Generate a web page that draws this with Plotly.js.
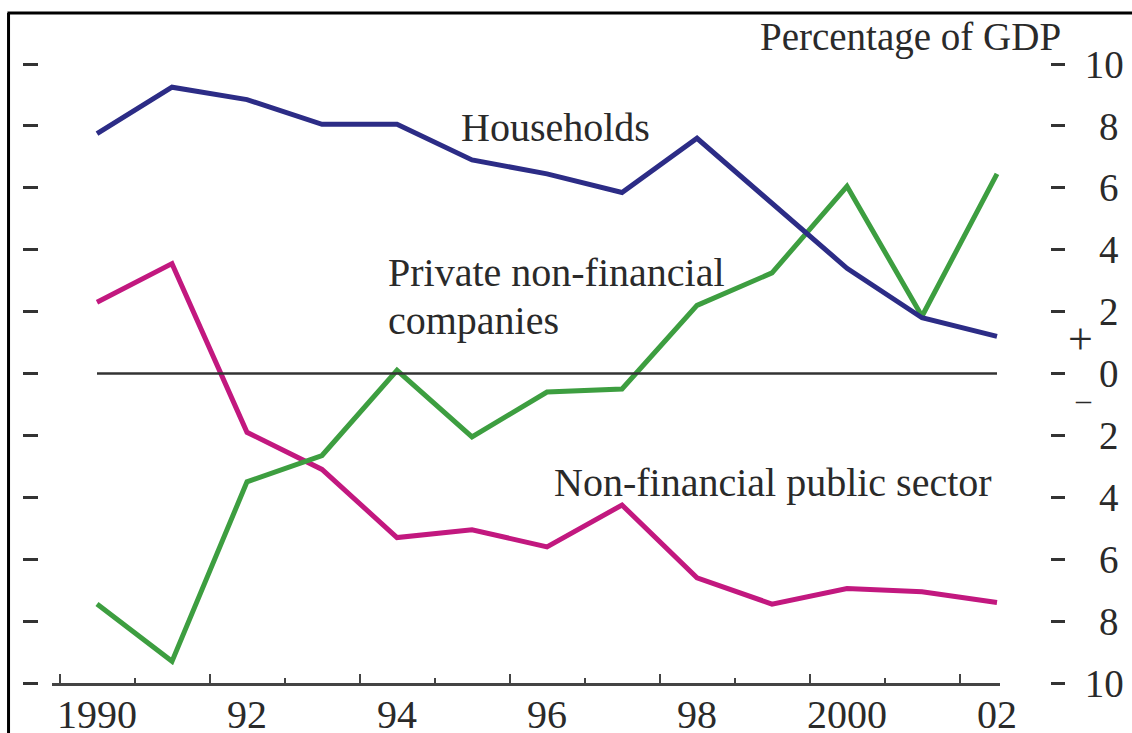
<!DOCTYPE html>
<html>
<head>
<meta charset="utf-8">
<script src="https://cdn.plot.ly/plotly-3.0.1.min.js"></script>
<style>html,body{margin:0;padding:0;background:#fff;}#chart{width:1132px;height:733px;}</style>
</head>
<body>
<div id="chart"></div>
<script>
// ---- data ----
const years = [1990,1991,1992,1993,1994,1995,1996,1997,1998,1999,2000,2001,2002];
const households = [7.75,9.25,8.85,8.05,8.05,6.9,6.45,5.85,7.6,5.5,3.4,1.8,1.2];
const privateCompanies = [-7.45,-9.3,-3.5,-2.65,0.1,-2.05,-0.6,-0.5,2.2,3.25,6.05,1.85,6.45];
const publicSector = [2.3,3.55,-1.9,-3.1,-5.3,-5.05,-5.6,-4.25,-6.6,-7.45,-6.95,-7.05,-7.4];
const xLabelVals = [1990,1992,1994,1996,1998,2000,2002];
const xLabelText = ['1990','92','94','96','98','2000','02'];
const yTickVals = [-10,-8,-6,-4,-2,0,2,4,6,8,10];
const yWideVals = [-10,10];
const yWideText = ['10','10'];
const yNarrowVals = [-8,-6,-4,-2,0,2,4,6,8];
const yNarrowText = ['8','6','4','2','0','2','4','6','8'];
const xTickMajor = [1989.5,1991.5,1993.5,1995.5,1997.5,1999.5,2001.5];

const FONT = 'Liberation Serif, Times New Roman, serif';
const TXT = '#2a2a2a';

const traces = [
  {x: years, y: publicSector, type: 'scatter', mode: 'lines', line: {color: '#c2187f', width: 5}, hoverinfo: 'skip'},
  {x: years, y: privateCompanies, type: 'scatter', mode: 'lines', line: {color: '#3d9e40', width: 5}, hoverinfo: 'skip'},
  {x: years, y: households, type: 'scatter', mode: 'lines', line: {color: '#2c2c86', width: 5}, hoverinfo: 'skip'},
  // invisible traces that attach the label axes
  {x: years, y: households, xaxis: 'x2', yaxis: 'y', type: 'scatter', mode: 'lines', line: {width: 0, color: 'rgba(0,0,0,0)'}, hoverinfo: 'skip'},
  {x: years, y: households, xaxis: 'x', yaxis: 'y2', type: 'scatter', mode: 'lines', line: {width: 0, color: 'rgba(0,0,0,0)'}, hoverinfo: 'skip'},
  {x: years, y: households, xaxis: 'x', yaxis: 'y3', type: 'scatter', mode: 'lines', line: {width: 0, color: 'rgba(0,0,0,0)'}, hoverinfo: 'skip'}
];

const xDom = [(52-20)/1092, (1000-20)/1092];
const xRange = [1989.4, 2002.04];

const layout = {
  width: 1132, height: 733,
  margin: {l: 20, r: 20, t: 64, b: 50},
  paper_bgcolor: '#fff', plot_bgcolor: '#fff',
  showlegend: false,
  font: {family: FONT, color: TXT, size: 39},
  xaxis: {
    domain: xDom, range: xRange, showgrid: false, zeroline: false,
    showline: true, linecolor: '#444', linewidth: 2.5,
    tickmode: 'array', tickvals: xTickMajor, showticklabels: false,
    ticks: 'inside', ticklen: 9, tickwidth: 2, tickcolor: '#444',
    minor: {tick0: 1989.5, dtick: 1, ticks: 'inside', ticklen: 5, tickwidth: 2, tickcolor: '#444', showgrid: false}
  },
  xaxis2: {
    overlaying: 'x', anchor: 'y', side: 'bottom', domain: xDom, range: xRange,
    showgrid: false, zeroline: false, showline: false, ticks: '',
    tickmode: 'array', tickvals: xLabelVals, ticktext: xLabelText,
    tickfont: {family: FONT, size: 40, color: TXT}, ticklabelstandoff: 4
  },
  yaxis: {
    range: [-10, 10], anchor: 'free', position: (38-20)/1092,
    showgrid: false, zeroline: false, showline: false,
    tickmode: 'array', tickvals: yTickVals, showticklabels: false,
    ticks: 'outside', ticklen: 15, tickwidth: 3, tickcolor: '#333'
  },
  yaxis2: {
    overlaying: 'y', range: [-10, 10], side: 'right', anchor: 'free', position: (1050-20)/1092,
    showgrid: false, zeroline: false, showline: false,
    tickmode: 'array', tickvals: yTickVals,
    ticktext: yTickVals.map(v => (yWideVals.indexOf(v) >= 0 ? yWideText[yWideVals.indexOf(v)] : '')),
    ticks: 'outside', ticklen: 14, tickwidth: 3, tickcolor: '#333',
    tickfont: {family: FONT, size: 39, color: TXT}, ticklabelstandoff: 12
  },
  yaxis3: {
    overlaying: 'y', range: [-10, 10], side: 'right', anchor: 'free', position: (1098-20)/1092,
    showgrid: false, zeroline: false, showline: false,
    tickmode: 'array', tickvals: yNarrowVals, ticktext: yNarrowText,
    ticks: '', ticklen: 0,
    tickfont: {family: FONT, size: 39, color: TXT}, ticklabelstandoff: 0
  },
  shapes: [
    {type: 'line', xref: 'x', yref: 'y', x0: years[0], x1: years[years.length-1], y0: 0, y1: 0, line: {color: '#333', width: 2.5}},
    {type: 'line', xref: 'paper', yref: 'paper', x0: -0.0105, x1: -0.0105, y0: -0.2, y1: 1.0824, line: {color: '#000', width: 3}},
    {type: 'line', xref: 'paper', yref: 'paper', x0: -0.0115, x1: 1.1, y0: 1.0824, y1: 1.0824, line: {color: '#000', width: 3}}
  ],
  annotations: [
    {text: 'Households', xref: 'x', yref: 'y', x: 1994.82, y: 7.94, xanchor: 'left', yanchor: 'middle', showarrow: false, font: {family: FONT, size: 40, color: TXT}},
    {text: 'Private non-financial', xref: 'x', yref: 'y', x: 1993.85, y: 3.26, xanchor: 'left', yanchor: 'middle', showarrow: false, font: {family: FONT, size: 40, color: TXT}},
    {text: 'companies', xref: 'x', yref: 'y', x: 1993.85, y: 1.71, xanchor: 'left', yanchor: 'middle', showarrow: false, font: {family: FONT, size: 40, color: TXT}},
    {text: 'Non-financial public sector', xref: 'x', yref: 'y', x: 1996.06, y: -3.52, xanchor: 'left', yanchor: 'middle', showarrow: false, font: {family: FONT, size: 40, color: TXT}},
    {text: 'Percentage of GDP', xref: 'paper', yref: 'paper', x: (1063-20)/1092, y: 1.0436, xanchor: 'right', yanchor: 'middle', showarrow: false, font: {family: FONT, size: 39, color: TXT}},
    {text: '+', xref: 'paper', yref: 'y', x: (1080-20)/1092, y: 1.1, xanchor: 'center', yanchor: 'middle', showarrow: false, font: {family: FONT, size: 44, color: TXT}},
    {text: '\u2013', xref: 'paper', yref: 'y', x: (1083-20)/1092, y: -0.85, xanchor: 'center', yanchor: 'middle', showarrow: false, font: {family: FONT, size: 30, color: TXT}}
  ]
};

Plotly.newPlot('chart', traces, layout, {staticPlot: true, displayModeBar: false});
</script>
</body>
</html>
